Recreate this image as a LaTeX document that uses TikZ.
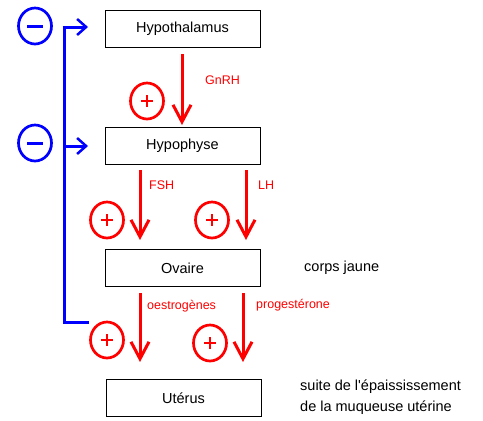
\documentclass[tikz,border=0pt]{standalone}
\usepackage{fontspec}
\setmainfont{Liberation Sans}
\usetikzlibrary{arrows.meta,shapes.geometric}
\definecolor{myred}{RGB}{255,0,0}
\definecolor{myblue}{RGB}{0,0,255}
\begin{document}
\begin{tikzpicture}[x=1pt,y=-1pt,
  box/.style={draw,line width=0.9pt,minimum width=155pt,minimum height=37pt,inner sep=0pt,font=\fontsize{14.5}{17}\selectfont},
  redarrow/.style={draw=myred,line width=3pt,-{Straight Barb[length=17pt,width=18pt,line width=3pt]}},
  bluearrow/.style={draw=myblue,line width=3pt,-{Straight Barb[length=9pt,width=16pt,line width=2.5pt]}},
  blueline/.style={draw=myblue,line width=3pt},
  hormone/.style={text=myred,font=\fontsize{12.5}{15}\selectfont,anchor=west,inner sep=0pt},
  note/.style={font=\fontsize{14.5}{21}\selectfont,anchor=west,inner sep=0pt,align=left},
  plus/.style={ellipse,draw=myred,line width=2.7pt,minimum width=33pt,minimum height=36pt,inner sep=0pt,
    path picture={\draw[myred,line width=1.8pt] ([xshift=-6pt]path picture bounding box.center) -- ([xshift=6pt]path picture bounding box.center);
      \draw[myred,line width=1.8pt] ([yshift=-6pt]path picture bounding box.center) -- ([yshift=6pt]path picture bounding box.center);}},
  minus/.style={ellipse,draw=myblue,line width=2.7pt,minimum width=33pt,minimum height=36pt,inner sep=0pt,
    path picture={\draw[myblue,line width=3pt] ([xshift=-8pt]path picture bounding box.center) -- ([xshift=8pt]path picture bounding box.center);}}
]
\useasboundingbox (0,0) rectangle (483,421);

% boxes
\node[box] (hypo) at (182.5,29) {Hypothalamus};
\node[box] (hyph) at (182.5,146) {Hypophyse};
\node[box] (ova) at (182.5,268) {Ovaire};
\node[box] (ute) at (183.5,398) {Utérus};

% arrow endpoints
\coordinate (g1) at (182,54);  \coordinate (g2) at (182,125);
\coordinate (f1) at (140,170); \coordinate (f2) at (140,240);
\coordinate (l1) at (246,170); \coordinate (l2) at (246,240);
\coordinate (o1) at (140,293); \coordinate (o2) at (140,362);
\coordinate (p1) at (243,293); \coordinate (p2) at (243,362);

\draw[redarrow] (g1) -- (g2);
\draw[redarrow] (f1) -- (f2);
\draw[redarrow] (l1) -- (l2);
\draw[redarrow] (o1) -- (o2);
\draw[redarrow] (p1) -- (p2);

% hormone labels
\node[hormone] (gnrh) at (205,80) {GnRH};
\node[hormone] (fsh) at (149,185) {FSH};
\node[hormone] (lh) at (258,185) {LH};
\node[hormone] (oes) at (147,306) {oestrogènes};
\node[hormone] (pro) at (256,305) {progestérone};

% plus circles
\node[plus] (pg) at (147,101) {};
\node[plus] (pf) at (107,220) {};
\node[plus] (pl) at (212,220) {};
\node[plus] (po) at (107,340) {};
\node[plus] (pp) at (210,343) {};

% minus circles
\node[minus] (m1) at (35,26) {};
\node[minus] (m2) at (35,143) {};

% blue feedback line
\coordinate (bt) at (64,27);
\coordinate (bm) at (64,146);
\coordinate (bb) at (64,322);
\coordinate (be) at (89,322);
\coordinate (at1) at (88,27);
\coordinate (at2) at (88,146);
\draw[blueline,line join=miter] (be) -- (bb) -- (bt);
\draw[bluearrow] ([xshift=-1.5pt]bt) -- (at1);
\draw[bluearrow] (bm) -- (at2);

% notes
\node[note] (cj) at (304,268) {corps jaune};
\node[note] (sui) at (300,397.5) {suite de l\textquotesingle épaississement\\de la muqueuse utérine};
\end{tikzpicture}
\end{document}
